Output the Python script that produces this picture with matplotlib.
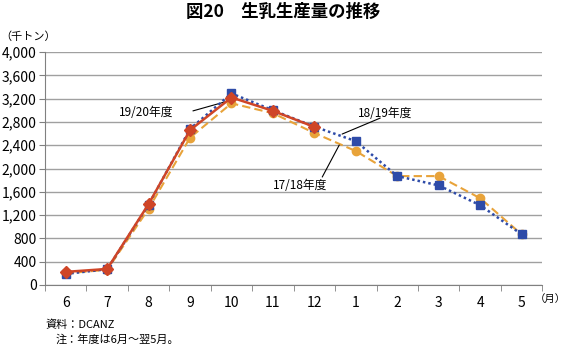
import matplotlib.pyplot as plt

plt.rcParams['font.family'] = ['Noto Sans CJK JP', 'DejaVu Sans']

# データ（千トン）
months = ['6', '7', '8', '9', '10', '11', '12', '1', '2', '3', '4', '5']
fy1718 = [200, 260, 1310, 2530, 3120, 2950, 2610, 2300, 1870, 1870, 1490, 870]
fy1819 = [190, 270, 1380, 2680, 3290, 3000, 2720, 2470, 1870, 1710, 1370, 870]
fy1920 = [225, 275, 1390, 2660, 3220, 2990, 2715]

x = list(range(len(months)))

fig = plt.figure(figsize=(5.67, 3.45), dpi=100)
ax = fig.add_axes([0.0794, 0.174, 0.877, 0.675])

ax.plot(x, fy1718, color='#E8A33A', linestyle=(0, (4, 2)), linewidth=1.5,
        marker='o', markersize=6, zorder=3)
ax.plot(x, fy1819, color='#2E4BA8', linestyle=(0, (1, 1.2)), linewidth=1.8,
        marker='s', markersize=6, zorder=4)
ax.plot(x[:len(fy1920)], fy1920, color='#CF4527', linestyle='-', linewidth=1.8,
        marker='D', markersize=6, zorder=5)

ax.set_xlim(-0.5, 11.5)
ax.set_ylim(0, 4000)
ax.set_yticks(range(0, 4001, 400))
ax.set_yticklabels([f'{v:,}' for v in range(0, 4001, 400)], fontsize=10)
ax.set_xticks(x)
ax.set_xticklabels(months, fontsize=10)
ax.set_xticks([i - 0.5 for i in range(13)], minor=True)
ax.tick_params(axis='x', which='major', length=0, pad=8)
ax.tick_params(axis='x', which='minor', length=4, direction='out', color='#808080')
ax.tick_params(axis='y', length=4, direction='out', color='#808080', pad=2)

ax.grid(axis='y', color='#A0A0A0', linewidth=1)
ax.set_axisbelow(True)
for s in ['top', 'right']:
    ax.spines[s].set_visible(False)
for s in ['left', 'bottom']:
    ax.spines[s].set_color('#808080')

# 注記
line_kw = dict(arrowstyle='-', color='black', lw=0.8, shrinkA=0, shrinkB=0)
ax.annotate('', xy=(3.92, 3160), xytext=(3.07, 2990), arrowprops=line_kw)
ax.text(1.94, 2970, '19/20年度', fontsize=8.5, ha='center', va='center')
ax.annotate('', xy=(6.67, 2592), xytext=(7.59, 2867), arrowprops=line_kw)
ax.text(7.71, 2953, '18/19年度', fontsize=8.5, ha='center', va='center')
ax.annotate('', xy=(6.60, 2403), xytext=(6.19, 1854), arrowprops=line_kw)
ax.text(5.66, 1717, '17/18年度', fontsize=8.5, ha='center', va='center')

fig.text(0.5, 0.965, '図20　生乳生産量の推移', ha='center', va='center',
         fontsize=12.5, fontweight='bold')
fig.text(0.0, 0.895, '（千トン）', ha='left', va='center', fontsize=8)
fig.text(0.998, 0.133, '（月）', ha='right', va='center', fontsize=7.5)
fig.text(0.08, 0.06, '資料：DCANZ', ha='left', va='center', fontsize=8)
fig.text(0.098, 0.017, '注：年度は6月～翌5月。', ha='left', va='center', fontsize=8)

fig.savefig('out.png', dpi=100)
